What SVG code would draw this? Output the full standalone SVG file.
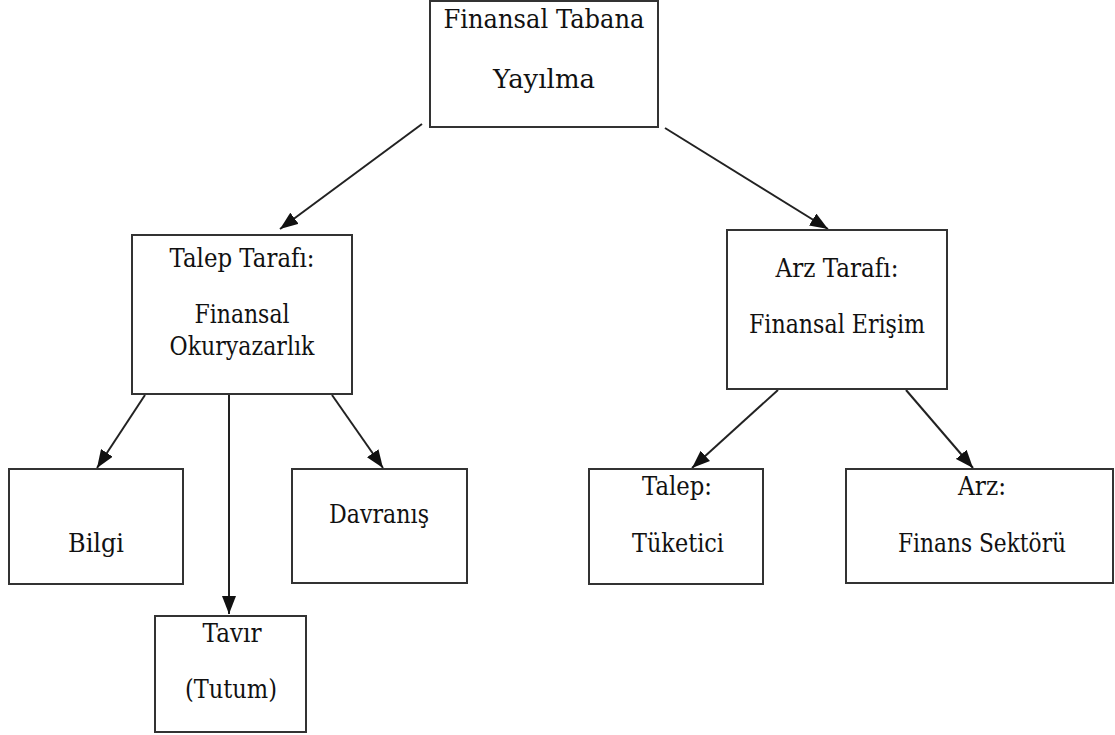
<svg xmlns="http://www.w3.org/2000/svg" width="1115" height="735" viewBox="0 0 1115 735">
<defs>
<marker id="arr" viewBox="0 0 18 14" refX="18" refY="7" markerWidth="18" markerHeight="14" markerUnits="userSpaceOnUse" orient="auto">
<path d="M0,0 L18,7 L0,14 Z" fill="#111"/>
</marker>
<style>
.box{fill:#fff;stroke:#333;stroke-width:2}
.t{font-family:'DejaVu Serif',serif;font-size:26px;fill:#111;text-anchor:middle}
.c{stroke:#222;stroke-width:2;fill:none;marker-end:url(#arr)}
</style>
</defs>
<rect width="1115" height="735" fill="#fff"/>
<g id="connectors">
<line class="c" x1="422" y1="124" x2="280" y2="229"/>
<line class="c" x1="665" y1="128" x2="828" y2="229"/>
<line class="c" x1="145" y1="395" x2="97" y2="468"/>
<line class="c" x1="229" y1="395" x2="229" y2="614"/>
<line class="c" x1="332" y1="395" x2="383" y2="468"/>
<line class="c" x1="778" y1="390" x2="692" y2="468"/>
<line class="c" x1="906" y1="390" x2="973" y2="468"/>
</g>
<g id="root">
<rect class="box" x="430" y="1" width="228" height="126"/>
<text class="t" x="544" y="28" textLength="201" lengthAdjust="spacingAndGlyphs">Finansal Tabana</text>
<text class="t" x="544" y="88" textLength="102" lengthAdjust="spacingAndGlyphs">Yayılma</text>
</g>
<g id="talep-tarafi">
<rect class="box" x="132" y="235" width="220" height="159"/>
<text class="t" x="242" y="267" textLength="145" lengthAdjust="spacingAndGlyphs">Talep Tarafı:</text>
<text class="t" x="242" y="323" textLength="95" lengthAdjust="spacingAndGlyphs">Finansal</text>
<text class="t" x="242" y="355" textLength="145" lengthAdjust="spacingAndGlyphs">Okuryazarlık</text>
</g>
<g id="arz-tarafi">
<rect class="box" x="727" y="230" width="220" height="159"/>
<text class="t" x="837" y="277" textLength="123" lengthAdjust="spacingAndGlyphs">Arz Tarafı:</text>
<text class="t" x="837" y="333" textLength="176" lengthAdjust="spacingAndGlyphs">Finansal Erişim</text>
</g>
<g id="bilgi">
<rect class="box" x="9" y="469" width="174" height="115"/>
<text class="t" x="96" y="552" textLength="56" lengthAdjust="spacingAndGlyphs">Bilgi</text>
</g>
<g id="davranis">
<rect class="box" x="292" y="469" width="175" height="114"/>
<text class="t" x="379" y="523" textLength="100" lengthAdjust="spacingAndGlyphs">Davranış</text>
</g>
<g id="tavir">
<rect class="box" x="155" y="616" width="151" height="116"/>
<text class="t" x="232" y="642" textLength="59" lengthAdjust="spacingAndGlyphs">Tavır</text>
<text class="t" x="231" y="698" textLength="92" lengthAdjust="spacingAndGlyphs">(Tutum)</text>
</g>
<g id="talep">
<rect class="box" x="589" y="469" width="174" height="115"/>
<text class="t" x="677" y="495" textLength="70" lengthAdjust="spacingAndGlyphs">Talep:</text>
<text class="t" x="678" y="552" textLength="92" lengthAdjust="spacingAndGlyphs">Tüketici</text>
</g>
<g id="arz">
<rect class="box" x="846" y="469" width="267" height="114"/>
<text class="t" x="982" y="495" textLength="48" lengthAdjust="spacingAndGlyphs">Arz:</text>
<text class="t" x="982" y="552" textLength="168" lengthAdjust="spacingAndGlyphs">Finans Sektörü</text>
</g>
</svg>
